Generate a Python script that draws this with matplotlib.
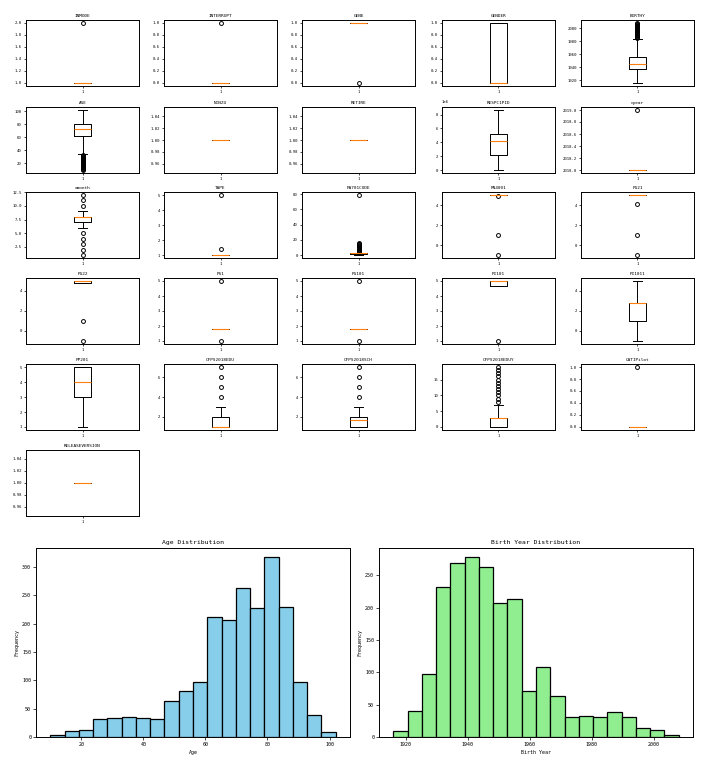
import matplotlib
matplotlib.use('Agg')
import matplotlib.pyplot as plt
from matplotlib.ticker import MaxNLocator
import numpy as np

plt.rcParams['font.family'] = ['DejaVu Sans Mono']

# ---------------- data ----------------
box_names = ['INMODE', 'INTERRUPT', 'GENE', 'GENDER', 'BIRTHY',
             'AGE', 'NINZU', 'RETIRE', 'RESPC1PID', 'cyear',
             'cmonth', 'TAPE', 'PA701CODE', 'PN4001', 'PG21',
             'PG22', 'PS1', 'PG101', 'PI101', 'PI1011',
             'PP201', 'CFPS2018EDU', 'CFPS2018SCH', 'CFPS2018EDUY', 'CATIPilot',
             'RELEASEVERSION']
box_q1 = [1, 0, 1, 0, 1937,
          62, 1, 1, 2.14e6, 2018,
          7, 1, 1, 5, 5,
          4.85, 1.82, 1.82, 4.7, 1,
          3, 1, 1, 0, 0,
          1]
box_med = [1, 0, 1, 0, 1945,
           73, 1, 1, 4.14e6, 2018,
           8, 1, 2, 5, 5,
           5, 1.82, 1.82, 5, 2.76,
           4, 1, 1.75, 3, 0,
           1]
box_q3 = [1, 0, 1, 1, 1956,
          81, 1, 1, 5.14e6, 2018,
          8, 1, 2, 5, 5,
          5, 1.82, 1.82, 5, 2.76,
          5, 2, 2, 3, 0,
          1]
box_lo = [1, 0, 1, 0, 1916,
          34, 1, 1, 0.0, 2018,
          6, 1, 0, 5, 5,
          4.85, 1.82, 1.82, 4.7, -1,
          1, 1, 1, 0, 0,
          1]
box_hi = [1, 0, 1, 1, 1984,
          102, 1, 1, 8.67e6, 2018,
          9, 1, 3, 5, 5,
          5, 1.82, 1.82, 5, 5,
          5, 3, 3, 7, 0,
          1]
box_fliers = [[2.0], [1.0], [0.0], [], list(range(1985, 2009)),
              list(range(10, 34)), [], [], [], [2019],
              [1, 2, 3, 4, 5, 10, 11, 12], [1.42, 5], list(range(4, 17)) + [79], [4.9, 1, -1], [4.1, 1, -1],
              [1, -1], [5, 1], [5, 1], [1], [],
              [], [4, 5, 6, 7], [4, 5, 6, 7], list(range(8, 20)), [1.0],
              []]

age_counts = [3, 11, 13, 31, 34, 35, 33, 31, 64, 82,
              97, 212, 207, 264, 228, 318, 230, 97, 39, 9]
age_range = (10, 102)
birth_counts = [9, 40, 97, 231, 268, 278, 263, 207, 213, 71,
                108, 64, 31, 33, 31, 39, 31, 14, 11, 3]
birth_range = (1916, 2008)

# ---------------- layout ----------------
W, H = 708, 767
fig = plt.figure(figsize=(W / 100, H / 100), dpi=100)

col_x = [26, 164, 302, 442, 581]
row_y = [20, 107, 192, 278, 364, 450]
bw, bh = 113, 66

def rect(x, y, w, h):
    return [x / W, 1 - (y + h) / H, w / W, h / H]

for i, name in enumerate(box_names):
    r, c = divmod(i, 5)
    ax = fig.add_axes(rect(col_x[c], row_y[r], bw, bh))
    st = [dict(med=box_med[i], q1=box_q1[i], q3=box_q3[i],
               whislo=box_lo[i], whishi=box_hi[i],
               fliers=np.array(box_fliers[i], dtype=float), label='1')]
    ax.bxp(st,
           boxprops=dict(linewidth=0.7, color='black'),
           whiskerprops=dict(linewidth=0.7, color='black'),
           capprops=dict(linewidth=0.7, color='black'),
           medianprops=dict(linewidth=0.8, color='#ff7f0e'),
           flierprops=dict(marker='o', markersize=2.8, markerfacecolor='none',
                           markeredgecolor='black', markeredgewidth=0.7))
    ax.yaxis.set_major_locator(MaxNLocator(nbins=6, steps=[1, 2, 2.5, 5, 10]))
    ax.set_title(name, fontsize=3.2, pad=2)
    ax.tick_params(labelsize=2.8, length=1.5, width=0.5, pad=1.5)
    ax.yaxis.get_offset_text().set_fontsize(2.8)
    for s in ax.spines.values():
        s.set_linewidth(0.7)

def hist_panel(x, y, counts, rng, color, title, xlabel):
    ax = fig.add_axes(rect(x, y, 314, 189))
    edges = np.linspace(rng[0], rng[1], len(counts) + 1)
    centers = (edges[:-1] + edges[1:]) / 2
    ax.hist(centers, bins=edges, weights=counts, color=color,
            edgecolor='black', linewidth=0.9)
    ax.set_title(title, fontsize=4.6, pad=3)
    ax.set_xlabel(xlabel, fontsize=3.6, labelpad=2)
    ax.set_ylabel('Frequency', fontsize=3.6, labelpad=2)
    ax.tick_params(labelsize=3.6, length=2, width=0.5, pad=1.5)
    for s in ax.spines.values():
        s.set_linewidth(0.7)
    return ax

hist_panel(36, 548, age_counts, age_range, 'skyblue', 'Age Distribution', 'Age')
hist_panel(379, 548, birth_counts, birth_range, 'lightgreen', 'Birth Year Distribution', 'Birth Year')

fig.savefig('out.png', dpi=100)
